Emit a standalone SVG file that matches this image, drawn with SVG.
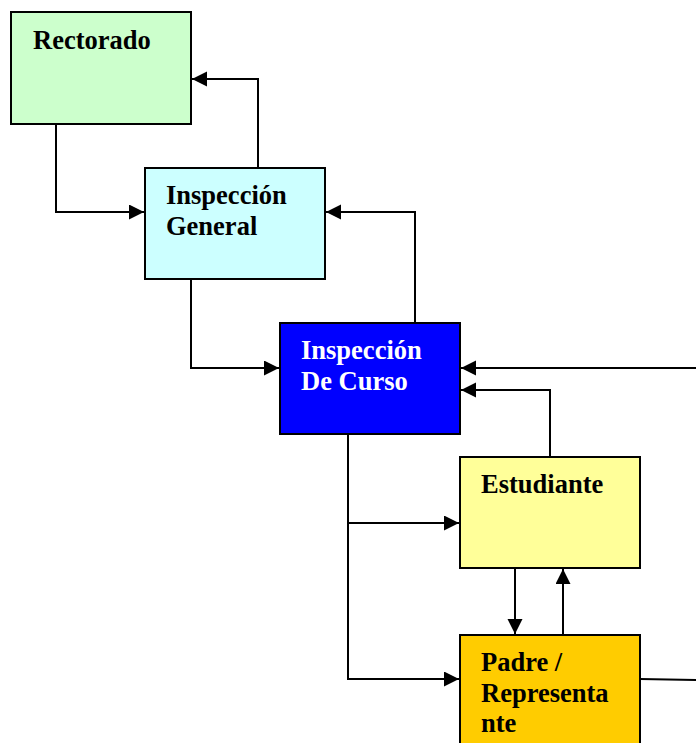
<svg xmlns="http://www.w3.org/2000/svg" width="696" height="743" viewBox="0 0 696 743">
<style>
.box{stroke:#000;stroke-width:2}
.t{font-family:"Liberation Serif","Times New Roman",serif;font-weight:bold;font-size:26.5px;fill:#000}
.w{fill:#fff}
.c{fill:none;stroke:#000;stroke-width:2}
</style>
<defs>
<marker id="a" markerUnits="userSpaceOnUse" markerWidth="16" markerHeight="16" refX="15" refY="7.5" orient="auto">
<path d="M0,0 L15,7.5 L0,15 Z" fill="#000"/>
</marker>
</defs>
<rect width="696" height="743" fill="#fff"/>
<g id="connectors">
<path class="c" d="M56,124 V212 H144" marker-end="url(#a)"/>
<path class="c" d="M258,168 V79 H192" marker-end="url(#a)"/>
<path class="c" d="M415,323 V212 H326" marker-end="url(#a)"/>
<path class="c" d="M191,279 V368 H279" marker-end="url(#a)"/>
<path class="c" d="M696,368 H461" marker-end="url(#a)"/>
<path class="c" d="M550,457 V390 H461" marker-end="url(#a)"/>
<path class="c" d="M348,434 V679 H459" marker-end="url(#a)"/>
<path class="c" d="M348,523 H459" marker-end="url(#a)"/>
<path class="c" d="M515,568 V634" marker-end="url(#a)"/>
<path class="c" d="M563,635 V569" marker-end="url(#a)"/>
<path class="c" d="M640,679 L696,680"/>
</g>
<g id="rectorado">
<rect class="box" x="11" y="12" width="180" height="112" fill="#CCFFCC"/>
<text class="t" x="33" y="49">Rectorado</text>
</g>
<g id="inspeccion-general">
<rect class="box" x="145" y="168" width="180" height="111" fill="#CCFFFF"/>
<text class="t" x="166" y="204">Inspección</text>
<text class="t" x="166" y="235">General</text>
</g>
<g id="inspeccion-curso">
<rect class="box" x="280" y="323" width="180" height="111" fill="#0000FF"/>
<text class="t w" x="301" y="359">Inspección</text>
<text class="t w" x="301" y="390">De Curso</text>
</g>
<g id="estudiante">
<rect class="box" x="460" y="457" width="180" height="111" fill="#FFFF99"/>
<text class="t" x="481" y="493">Estudiante</text>
</g>
<g id="padre">
<rect class="box" x="460" y="635" width="180" height="120" fill="#FFCC00"/>
<text class="t" x="481" y="671">Padre /</text>
<text class="t" x="481" y="702">Representa</text>
<text class="t" x="481" y="732">nte</text>
</g>
</svg>
